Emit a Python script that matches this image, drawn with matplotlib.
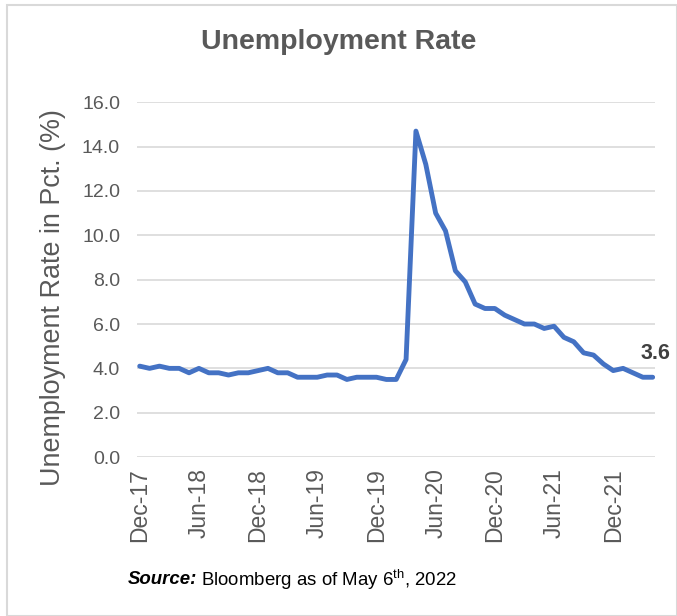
import matplotlib
matplotlib.use("Agg")
import matplotlib.pyplot as plt
from matplotlib.patches import Rectangle

plt.rcParams['font.family'] = ['Liberation Sans', 'DejaVu Sans']
plt.rcParams['mathtext.fontset'] = 'custom'
plt.rcParams['mathtext.rm'] = 'Liberation Sans'

# monthly US unemployment rate, Dec-17 .. Apr-22
rate = [4.1, 4.0, 4.1, 4.0, 4.0, 3.8, 4.0, 3.8, 3.8, 3.7, 3.8, 3.8,
        3.9, 4.0, 3.8, 3.8, 3.6, 3.6, 3.6, 3.7, 3.7, 3.5, 3.6, 3.6,
        3.6, 3.5, 3.5, 4.4, 14.7, 13.2, 11.0, 10.2, 8.4, 7.9, 6.9, 6.7,
        6.7, 6.4, 6.2, 6.0, 6.0, 5.8, 5.9, 5.4, 5.2, 4.7, 4.6, 4.2,
        3.9, 4.0, 3.8, 3.6, 3.6]
tick_pos = [0, 6, 12, 18, 24, 30, 36, 42, 48]
tick_labels = ['Dec-17', 'Jun-18', 'Dec-18', 'Jun-19', 'Dec-19',
               'Jun-20', 'Dec-20', 'Jun-21', 'Dec-21']
y_ticks = [0, 2, 4, 6, 8, 10, 12, 14, 16]

gray = '#595959'

fig = plt.figure(figsize=(6.77, 6.16), dpi=100)
ax = fig.add_axes([0.202, 0.258, 0.765, 0.576])

x = list(range(len(rate)))
ax.plot(x, rate, color='#4472C4', lw=3.5, solid_joinstyle='round',
        solid_capstyle='round', zorder=3)

ax.set_xlim(-0.3, 52.2)
ax.set_ylim(0, 16)
ax.set_yticks(y_ticks)
ax.set_yticklabels(['%.1f' % v for v in y_ticks])
ax.set_xticks(tick_pos)
ax.set_xticklabels(tick_labels, rotation=90)
ax.tick_params(axis='both', length=0, colors=gray)
ax.tick_params(axis='y', labelsize=14, pad=12)
ax.tick_params(axis='x', labelsize=16.5, pad=8)
ax.grid(axis='y', color='#d9d9d9', lw=1.2)
ax.set_axisbelow(True)
for s in ax.spines.values():
    s.set_visible(False)

ax.set_ylabel('Unemployment Rate in Pct. (%)', fontsize=19.4, color=gray)
ax.yaxis.set_label_coords(-0.136, 0.45)

ax.annotate('%.1f' % rate[-1], (x[-1], rate[-1]), xytext=(2, 13),
            textcoords='offset points', ha='center', va='baseline',
            fontsize=15.5, fontweight='bold', color='#404040')

fig.text(0.5, 0.932, 'Unemployment Rate', ha='center', va='center',
         fontsize=20.5, fontweight='bold', color=gray)

# source line
src = fig.text(128 / 677, 1 - 580 / 616, 'Source:', fontsize=13.4,
               fontweight='bold', fontstyle='italic', va='center')
fig.canvas.draw()
bb = src.get_window_extent()
fig.text((bb.x1 + 4) / 677, 1 - 580 / 616,
         r'Bloomberg as of May 6$^{\mathrm{th}}$, 2022', fontsize=13.4, va='center')

fig.patches.append(Rectangle((7 / 677, 0), 1 - 7 / 677, 1 - 5 / 616,
                             transform=fig.transFigure, fill=False,
                             edgecolor='#d9d9d9', lw=1.5))

fig.savefig('out.png', dpi=100)
